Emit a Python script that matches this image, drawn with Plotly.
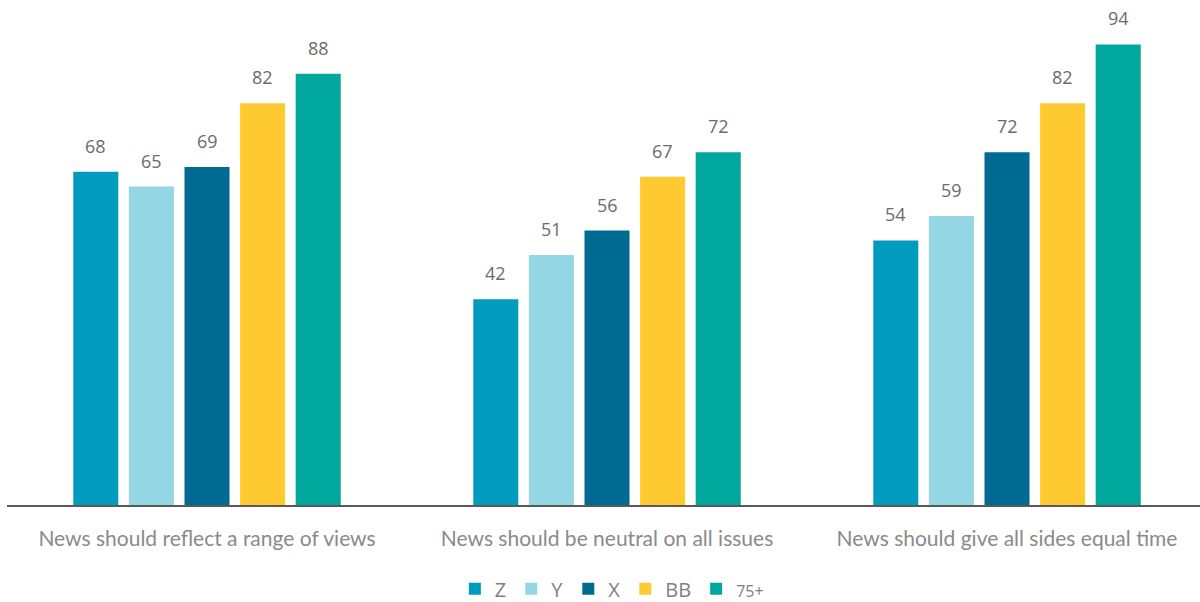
import plotly.graph_objects as go

categories = [
    "News should reflect a range of views",
    "News should be neutral on all issues",
    "News should give all sides equal time",
]
series_names = ["Z", "Y", "X", "BB", "75+"]
values_z = [68, 42, 54]
values_y = [65, 51, 59]
values_x = [69, 56, 72]
values_bb = [82, 67, 82]
values_75 = [88, 72, 94]

series_values = [values_z, values_y, values_x, values_bb, values_75]
colors = ["#009BBE", "#94D6E3", "#006B92", "#FFCA31", "#00A79D"]

BARGAP = 0.305
n_series = len(series_names)
slot = (1 - BARGAP) / n_series  # width of one bar slot in category units

fig = go.Figure()
for i, (name, vals, col) in enumerate(zip(series_names, series_values, colors)):
    legend_name = name if name != "75+" else "<span style='font-size:16px'>75+</span>"
    fig.add_trace(go.Bar(
        x=categories,
        y=vals,
        name=legend_name,
        marker=dict(color=col, line=dict(width=0)),
        hoverinfo="skip",
    ))
    # value labels above each bar
    for ci, v in enumerate(vals):
        fig.add_annotation(
            x=ci + (i - (n_series - 1) / 2) * slot,
            y=v,
            text=str(v),
            showarrow=False,
            yanchor="bottom",
            yshift=12,
            font=dict(family="Open Sans", size=18, color="#6B6B6B"),
        )

fig.update_layout(
    width=1200,
    height=602,
    barmode="group",
    bargap=BARGAP,
    bargroupgap=0.19,
    plot_bgcolor="white",
    paper_bgcolor="white",
    margin=dict(l=7, r=0, t=15, b=97, autoexpand=False),
    showlegend=True,
    legend=dict(
        orientation="h",
        x=0.507,
        xanchor="center",
        yref="container",
        y=0.022,
        yanchor="middle",
        font=dict(family="Open Sans", size=20, color="#808080"),
        itemwidth=30,
        tracegroupgap=0,
        traceorder="normal",
    ),
    xaxis=dict(
        type="category",
        range=[-0.5, 2.4825],
        showline=True,
        linecolor="#595959",
        linewidth=1.5,
        ticks="",
        ticklabelstandoff=14,
        automargin=False,
        tickfont=dict(family="Lato", size=21, color="#8A8A8A"),
        showgrid=False,
    ),
    yaxis=dict(
        range=[0, 100],
        visible=False,
        showgrid=False,
        zeroline=False,
        automargin=False,
    ),
)

fig.write_html("out.html")
